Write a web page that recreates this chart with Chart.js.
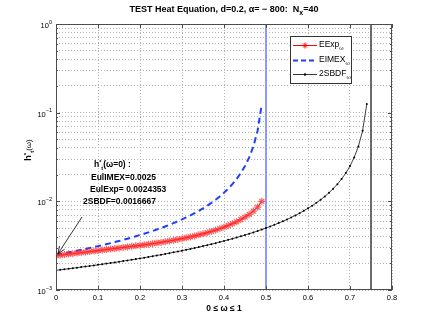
<!DOCTYPE html>
<html>
<head>
<meta charset="utf-8">
<script src="https://cdn.jsdelivr.net/npm/chart.js@4.4.0/dist/chart.umd.min.js"></script>
<style>
  html, body { margin: 0; padding: 0; background: #fff; }
  canvas { display: block; }
</style>
</head>
<body>
<canvas id="stabChart" width="433" height="327"></canvas>
<script>
// omega samples (step 0.01)
const omega = [0,0.01,0.02,0.03,0.04,0.05,0.06,0.07,0.08,0.09,0.1,0.11,0.12,0.13,0.14,0.15,0.16,0.17,0.18,0.19,
  0.2,0.21,0.22,0.23,0.24,0.25,0.26,0.27,0.28,0.29,0.3,0.31,0.32,0.33,0.34,0.35,0.36,0.37,0.38,0.39,
  0.4,0.41,0.42,0.43,0.44,0.45,0.46,0.47,0.48,0.49,0.5,0.51,0.52,0.53,0.54,0.55,0.56,0.57,0.58,0.59,
  0.6,0.61,0.62,0.63,0.64,0.65,0.66,0.67,0.68,0.69,0.7,0.71,0.72,0.73,0.74];

const eexp = [0.002437,0.002472,0.002506,0.002541,0.00257,0.002606,0.002642,0.00268,0.00271,0.002748,
  0.002786,0.002825,0.002864,0.002904,0.002938,0.002979,0.00302,0.003062,0.003105,0.003148,
  0.003192,0.003236,0.003289,0.003334,0.003388,0.003443,0.003508,0.003573,0.003639,0.003715,
  0.003793,0.003882,0.003972,0.004074,0.004188,0.004305,0.004436,0.004581,0.004742,0.00492,
  0.005117,0.005346,0.005598,0.005888,0.006237,0.006653,0.007145,0.007762,0.00861,0.01];

const eimex = [0.0025,0.002551,0.002604,0.00266,0.002717,0.002778,0.002841,0.002907,0.002976,0.003049,
  0.003125,0.003205,0.003289,0.003378,0.003472,0.003571,0.003676,0.003788,0.003906,0.004032,
  0.004167,0.00431,0.004464,0.00463,0.004808,0.005,0.005208,0.005435,0.005682,0.005952,
  0.00625,0.006579,0.006944,0.007353,0.007813,0.008333,0.008929,0.009615,0.01042,0.01136,
  0.0125,0.01389,0.01563,0.01786,0.02083,0.025,0.03125,0.04167,0.0625,0.125];

const sbdf2 = [0.001667,0.001689,0.001712,0.001736,0.001761,0.001786,0.001812,0.001838,0.001866,0.001894,
  0.001923,0.001953,0.001984,0.002016,0.002049,0.002083,0.002119,0.002155,0.002193,0.002232,
  0.002273,0.002315,0.002358,0.002404,0.002451,0.0025,0.002551,0.002604,0.00266,0.002717,
  0.002778,0.002841,0.002907,0.002976,0.003049,0.003125,0.003205,0.003289,0.003378,0.003472,
  0.003571,0.003676,0.003788,0.003906,0.004032,0.004167,0.00431,0.004464,0.00463,0.004808,
  0.005,0.005208,0.005435,0.005682,0.005952,0.00625,0.006579,0.006944,0.007353,0.007813,
  0.008333,0.008929,0.009615,0.01042,0.01136,0.0125,0.01389,0.01563,0.01786,0.02083,
  0.025,0.03125,0.04167,0.0625,0.125];

const stabilityLimits = [0.5, 0.75];
const xTicks = [0, 0.1, 0.2, 0.3, 0.4, 0.5, 0.6, 0.7, 0.8];
const xTickLabels = ['0', '0.1', '0.2', '0.3', '0.4', '0.5', '0.6', '0.7', '0.8'];
const yTicks = [0.001, 0.01, 0.1, 1];
const yTickExps = ['\u22123', '\u22122', '\u22121', '0'];
const yMinor = [0.002,0.003,0.004,0.005,0.006,0.007,0.008,0.009,
  0.02,0.03,0.04,0.05,0.06,0.07,0.08,0.09,
  0.2,0.3,0.4,0.5,0.6,0.7,0.8,0.9];

const FONT = '"Liberation Sans", Arial, sans-serif';
const pts = (ys) => ys.map((y, i) => ({ x: omega[i], y }));

// draw a run of text pieces (size, bold, dy) starting at x
function rich(ctx, parts, x, y, align) {
  let w = 0;
  parts.forEach(p => { ctx.font = (p.b ? 'bold ' : '') + p.s + 'px ' + FONT; p.w = ctx.measureText(p.t).width; w += p.w; });
  let cx = align === 'center' ? x - w / 2 : (align === 'right' ? x - w : x);
  ctx.textAlign = 'left';
  parts.forEach(p => {
    ctx.font = (p.b ? 'bold ' : '') + p.s + 'px ' + FONT;
    ctx.fillText(p.t, cx, y + (p.dy || 0));
    cx += p.w;
  });
}

const decor = {
  id: 'decor',
  afterDraw(chart) {
    const { ctx, chartArea: a, scales: { x, y } } = chart;
    ctx.save();
    // axes box
    ctx.strokeStyle = '#4d4d4d';
    ctx.lineWidth = 1;
    ctx.strokeRect(a.left + 0.5, a.top + 0.5, a.right - a.left - 1, a.bottom - a.top - 1);
    // inner tick marks
    ctx.beginPath();
    xTicks.forEach(v => {
      const px = Math.round(x.getPixelForValue(v)) + 0.5;
      ctx.moveTo(px, a.bottom); ctx.lineTo(px, a.bottom - 4);
      ctx.moveTo(px, a.top); ctx.lineTo(px, a.top + 4);
    });
    yTicks.forEach(v => {
      const py = Math.round(y.getPixelForValue(v)) + 0.5;
      ctx.moveTo(a.left, py); ctx.lineTo(a.left + 4, py);
      ctx.moveTo(a.right, py); ctx.lineTo(a.right - 4, py);
    });
    yMinor.forEach(v => {
      const py = Math.round(y.getPixelForValue(v)) + 0.5;
      ctx.moveTo(a.left, py); ctx.lineTo(a.left + 2, py);
      ctx.moveTo(a.right, py); ctx.lineTo(a.right - 2, py);
    });
    ctx.stroke();

    ctx.fillStyle = '#000';
    ctx.textBaseline = 'middle';
    // x tick labels
    ctx.font = '7.5px ' + FONT;
    ctx.textAlign = 'center';
    xTicks.forEach((v, i) => ctx.fillText(xTickLabels[i], x.getPixelForValue(v), a.bottom + 8));
    // y tick labels 10^k
    yTicks.forEach((v, i) => {
      const py = y.getPixelForValue(v);
      rich(ctx, [{ t: '10', s: 7.5 }, { t: yTickExps[i], s: 5.5, dy: -4 }], a.left - 4, py + 2, 'right');
    });

    // title
    rich(ctx, [
      { t: 'TEST Heat Equation, d=0.2, \u03b1= \u2212 800:  N', s: 9, b: true },
      { t: 'x', s: 7, b: true, dy: 3 },
      { t: '=40', s: 9, b: true }
    ], (a.left + a.right) / 2, 10, 'center');

    // x axis label
    rich(ctx, [{ t: '0 \u2264 \u03c9 \u2264 1', s: 8.5, b: true }], (a.left + a.right) / 2, 309, 'center');

    // y axis label (rotated)
    ctx.save();
    ctx.translate(29, 150);
    ctx.rotate(-Math.PI / 2);
    rich(ctx, [
      { t: 'h', s: 9, b: true },
      { t: '*', s: 6, b: true, dy: -3 },
      { t: 't', s: 6, b: true, dy: 3 },
      { t: '(\u03c9)', s: 8, b: false }
    ], 0, 0, 'center');
    ctx.restore();

    // annotation
    rich(ctx, [
      { t: 'h', s: 8.5, b: true },
      { t: '*', s: 5.5, b: true, dy: -3 },
      { t: 't', s: 5.5, b: true, dy: 3 },
      { t: '(\u03c9=0) :', s: 8.5, b: true }
    ], 94, 165, 'left');
    rich(ctx, [{ t: 'EulIMEX=0.0025', s: 8.5, b: true }], 91, 178, 'left');
    rich(ctx, [{ t: 'EulExp= 0.0024353', s: 8.5, b: true }], 90, 190, 'left');
    rich(ctx, [{ t: '2SBDF=0.0016667', s: 8.5, b: true }], 83, 202, 'left');

    // arrow
    const tipX = x.getPixelForValue(omega[0]) + 2, tipY = y.getPixelForValue(eimex[0]) - 1;
    const sx = 82, sy = 217;
    const ang = Math.atan2(tipY - sy, tipX - sx);
    ctx.strokeStyle = '#000';
    ctx.lineWidth = 0.8;
    ctx.beginPath();
    ctx.moveTo(sx, sy); ctx.lineTo(tipX, tipY);
    ctx.moveTo(tipX - 8 * Math.cos(ang - 0.4), tipY - 8 * Math.sin(ang - 0.4));
    ctx.lineTo(tipX, tipY);
    ctx.lineTo(tipX - 8 * Math.cos(ang + 0.4), tipY - 8 * Math.sin(ang + 0.4));
    ctx.stroke();

    // legend
    const lx = 290, ly = 36, lw = 61, lh = 47;
    ctx.fillStyle = '#fff';
    ctx.fillRect(lx, ly, lw, lh);
    ctx.strokeStyle = '#333';
    ctx.lineWidth = 1;
    ctx.strokeRect(lx + 0.5, ly + 0.5, lw, lh);
    const rows = [
      { label: 'EExp', y: 45, color: 'red', dash: [], w: 1, mark: 'star' },
      { label: 'EIMEX', y: 60, color: '#1f3fff', dash: [5, 3], w: 2, mark: null },
      { label: '2SBDF', y: 74, color: '#000', dash: [], w: 0.8, mark: 'dot' }
    ];
    rows.forEach(r => {
      ctx.strokeStyle = r.color;
      ctx.lineWidth = r.w;
      ctx.setLineDash(r.dash);
      ctx.beginPath(); ctx.moveTo(293, r.y + 0.5); ctx.lineTo(317, r.y + 0.5); ctx.stroke();
      ctx.setLineDash([]);
      if (r.mark === 'star') {
        ctx.lineWidth = 1;
        ctx.beginPath();
        ctx.moveTo(302, r.y + 0.5); ctx.lineTo(308, r.y + 0.5);
        ctx.moveTo(305, r.y - 2.5); ctx.lineTo(305, r.y + 3.5);
        ctx.moveTo(303, r.y - 1.5); ctx.lineTo(307, r.y + 2.5);
        ctx.moveTo(307, r.y - 1.5); ctx.lineTo(303, r.y + 2.5);
        ctx.stroke();
      } else if (r.mark === 'dot') {
        ctx.fillStyle = '#000';
        ctx.beginPath(); ctx.arc(305, r.y + 0.5, 1.2, 0, Math.PI * 2); ctx.fill();
      }
      ctx.fillStyle = '#000';
      rich(ctx, [{ t: r.label, s: 8.5 }, { t: '\u03c9', s: 5.5, dy: 3 }], 319, r.y, 'left');
    });
    ctx.restore();
  }
};

new Chart(document.getElementById('stabChart').getContext('2d'), {
  type: 'line',
  data: {
    datasets: [
      {
        label: 'EExp',
        data: pts(eexp),
        borderColor: 'red',
        borderWidth: 1,
        pointStyle: 'star',
        pointRadius: 3.5,
        pointBorderWidth: 1.2,
        pointBorderColor: 'rgba(255,40,40,0.75)',
        pointBackgroundColor: 'red'
      },
      {
        label: 'EIMEX',
        data: pts(eimex),
        borderColor: '#1f3fff',
        borderWidth: 2,
        borderDash: [6, 4],
        pointRadius: 0
      },
      {
        label: '2SBDF',
        data: pts(sbdf2),
        borderColor: '#111',
        borderWidth: 0.8,
        pointStyle: 'circle',
        pointRadius: 1,
        pointBorderWidth: 0,
        pointBackgroundColor: '#000'
      },
      {
        label: 'limit EIMEX',
        data: [{ x: stabilityLimits[0], y: 0.001 }, { x: stabilityLimits[0], y: 1 }],
        borderColor: '#8a9aff',
        borderWidth: 2,
        pointRadius: 0
      },
      {
        label: 'limit 2SBDF',
        data: [{ x: stabilityLimits[1], y: 0.001 }, { x: stabilityLimits[1], y: 1 }],
        borderColor: '#6a6a6a',
        borderWidth: 2,
        pointRadius: 0
      }
    ]
  },
  options: {
    responsive: false,
    animation: false,
    devicePixelRatio: 1,
    layout: { padding: { left: 56, top: 24, right: 41, bottom: 37 } },
    plugins: { legend: { display: false }, tooltip: { enabled: false }, title: { display: false } },
    scales: {
      x: {
        type: 'linear',
        min: 0, max: 0.8,
        afterBuildTicks: s => { s.ticks = xTicks.map(v => ({ value: v })); },
        ticks: { display: false },
        grid: { color: '#b4b4b4', lineWidth: 1, drawTicks: false },
        border: { display: false, dash: [1, 2] }
      },
      y: {
        type: 'logarithmic',
        min: 0.001, max: 1,
        afterBuildTicks: s => { s.ticks = yTicks.concat(yMinor).sort((p, q) => p - q).map(v => ({ value: v })); },
        ticks: { display: false },
        grid: { color: '#b4b4b4', lineWidth: 1, drawTicks: false },
        border: { display: false, dash: [1, 2] }
      }
    }
  },
  plugins: [decor]
});
</script>
</body>
</html>
